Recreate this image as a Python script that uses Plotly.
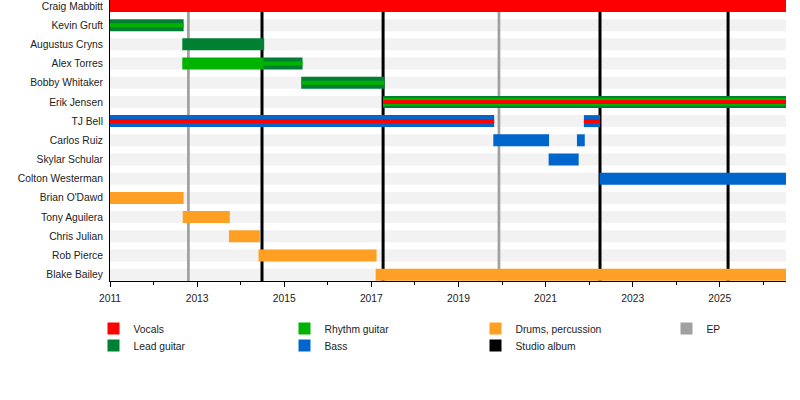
import plotly.graph_objects as go

members = ["Craig Mabbitt", "Kevin Gruft", "Augustus Cryns", "Alex Torres", "Bobby Whitaker",
           "Erik Jensen", "TJ Bell", "Carlos Ruiz", "Skylar Schular", "Colton Westerman",
           "Brian O'Dawd", "Tony Aguilera", "Chris Julian", "Rob Pierce", "Blake Bailey"]

timeline_start = 2011.0
timeline_end = 2026.52

# spells: member, from, to, roles (outer stripe first)
spell_member = ["Craig Mabbitt", "Kevin Gruft", "Augustus Cryns", "Alex Torres", "Alex Torres",
                "Bobby Whitaker", "Erik Jensen", "TJ Bell", "TJ Bell", "Carlos Ruiz", "Carlos Ruiz",
                "Skylar Schular", "Colton Westerman", "Brian O'Dawd", "Tony Aguilera",
                "Chris Julian", "Rob Pierce", "Blake Bailey"]
spell_start = [2011.0, 2011.0, 2012.66, 2012.66, 2014.52,
               2015.39, 2017.27, 2011.0, 2021.88, 2019.80, 2021.72,
               2021.07, 2022.24, 2011.0, 2012.67,
               2013.73, 2014.41, 2017.10]
spell_end = [timeline_end, 2012.69, 2014.54, 2014.52, 2015.42,
             2017.30, timeline_end, 2019.82, 2022.25, 2021.08, 2021.90,
             2021.76, timeline_end, 2012.69, 2013.75,
             2014.44, 2017.12, timeline_end]
spell_roles = [["Vocals"], ["Lead guitar", "Rhythm guitar"], ["Lead guitar"], ["Rhythm guitar"],
               ["Lead guitar", "Rhythm guitar"], ["Lead guitar", "Rhythm guitar"],
               ["Lead guitar", "Rhythm guitar", "Vocals"], ["Bass", "Vocals"], ["Bass", "Vocals"],
               ["Bass"], ["Bass"], ["Bass"], ["Bass"], ["Drums, percussion"], ["Drums, percussion"],
               ["Drums, percussion"], ["Drums, percussion"], ["Drums, percussion"]]

ep_dates = [2012.80, 2019.93]
studio_dates = [2014.49, 2017.27, 2022.25, 2025.19]

role_colors = {
    "Vocals": "#ff0000",
    "Lead guitar": "#008033",
    "Rhythm guitar": "#00b300",
    "Bass": "#0066cc",
    "Drums, percussion": "#ffa024",
    "EP": "#a0a0a0",
    "Studio album": "#000000",
}

row_h = 0.625
stripe_widths = {1: [row_h], 2: [row_h, row_h / 3], 3: [row_h, row_h * 2 / 3, row_h / 3]}

fig = go.Figure()

# group bar pieces by (role, thickness) so outer stripes are drawn first
pieces = {}
for m, s, e, roles in zip(spell_member, spell_start, spell_end, spell_roles):
    widths = stripe_widths[len(roles)]
    for role, w in zip(roles, widths):
        key = (role, round(w, 4))
        pieces.setdefault(key, {"y": [], "base": [], "x": []})
        pieces[key]["y"].append(members.index(m))
        pieces[key]["base"].append(s)
        pieces[key]["x"].append(e - s)

for (role, w) in sorted(pieces, key=lambda k: -k[1]):
    p = pieces[(role, w)]
    fig.add_trace(go.Bar(
        y=p["y"], x=p["x"], base=p["base"], orientation="h", width=w,
        marker=dict(color=role_colors[role], line=dict(width=0)),
        name=role, showlegend=False, hoverinfo="skip"
    ))

# legend entries: two horizontal rows, EP in its own legend in the 4th column
legend_groups = [["Vocals", "Rhythm guitar", "Drums, percussion"],
                 ["Lead guitar", "Bass", "Studio album"],
                 ["EP"]]
legend_names = ["legend", "legend2", "legend3"]
for lname, grp in zip(legend_names, legend_groups):
    for role in grp:
        fig.add_trace(go.Bar(
            x=[None], y=[None], orientation="h", name=role,
            marker=dict(color=role_colors[role], line=dict(width=0)),
            legend=lname, showlegend=True
        ))

# row background bands
for i in range(len(members)):
    fig.add_shape(type="rect", xref="paper", yref="y", x0=0, x1=1,
                  y0=i - row_h / 2, y1=i + row_h / 2,
                  fillcolor="#f2f2f2", line_width=0, layer="below")

# release lines
for d in ep_dates:
    fig.add_shape(type="line", xref="x", yref="paper", x0=d, x1=d, y0=0, y1=1,
                  line=dict(color=role_colors["EP"], width=2.7), layer="below")
for d in studio_dates:
    fig.add_shape(type="line", xref="x", yref="paper", x0=d, x1=d, y0=0, y1=1,
                  line=dict(color=role_colors["Studio album"], width=3), layer="below")

font = dict(family="Liberation Sans, Arial, sans-serif", size=10.3, color="#222")

plot_l, plot_w, plot_h = 110, 676, 281
col_step = 191
legend_left = 93.5
legend_tops = [314, 331, 314]
legend_lefts = [legend_left, legend_left, legend_left + 3 * col_step]
legend_common = dict(xref="paper", yref="paper", xanchor="left", yanchor="top",
                     orientation="h", bgcolor="rgba(0,0,0,0)", font=font, itemclick=False)

legends = {}
for lname, left, top in zip(legend_names, legend_lefts, legend_tops):
    legends[lname] = dict(x=(left - plot_l) / plot_w, y=(plot_h - top) / plot_h, **legend_common)
# fixed column width only for the multi-entry rows
for lname in ["legend", "legend2"]:
    legends[lname].update(entrywidth=col_step - 45, entrywidthmode="pixels")

fig.update_layout(
    width=800, height=400,
    barmode="overlay",
    plot_bgcolor="white", paper_bgcolor="white",
    margin=dict(l=plot_l, r=800 - plot_l - plot_w, t=0, b=400 - plot_h),
    font=font,
    **legends
)
fig.update_xaxes(
    range=[timeline_start, timeline_end], tick0=2011, dtick=2, tickformat="d",
    ticks="outside", ticklen=5, tickcolor="black", ticklabelstandoff=3,
    showgrid=False, zeroline=False, showline=True, linecolor="black", linewidth=1,
    minor=dict(dtick=1, ticks="outside", ticklen=3, tickcolor="black", showgrid=False),
    automargin=False, fixedrange=True
)
fig.update_yaxes(
    range=[len(members) - 1 + 0.33, -0.31], tickvals=list(range(len(members))), ticktext=members,
    ticks="", ticklabelstandoff=4, showgrid=False, zeroline=False,
    showline=True, linecolor="black", linewidth=1,
    automargin=False, fixedrange=True
)

# drop the page's default 8px body margin so the chart sits at the window corner
fig.write_html("out.html", config={"displayModeBar": False},
               post_script="document.body.style.margin = '0';")
